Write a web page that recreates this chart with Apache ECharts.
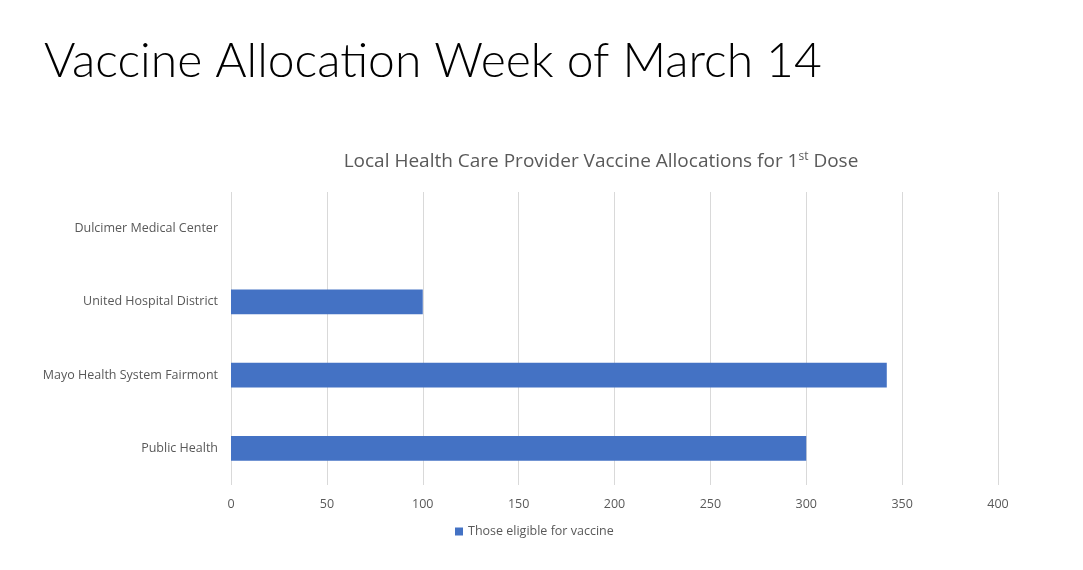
<!DOCTYPE html>
<html>
<head>
<meta charset="utf-8">
<script src="https://cdn.jsdelivr.net/npm/echarts@6/dist/echarts.min.js"></script>
<style>
html,body{margin:0;padding:0;background:#fff;}
#chart{width:1083px;height:570px;}
</style>
</head>
<body>
<div id="chart"></div>
<script>
// data
var categories = ['Public Health', 'Mayo Health System Fairmont', 'United Hospital District', 'Dulcimer Medical Center'];
var eligible = [300, 342, 100, 0];
var seriesName = 'Those eligible for vaccine';
var xTicks = [0, 400, 50]; // min, max, interval

var myChart = echarts.init(document.getElementById('chart'));
var option = {
    backgroundColor: '#fff',
    textStyle: { fontFamily: 'Open Sans, Noto Sans, sans-serif' },
    title: [
        {
            text: 'Vaccine Allocation Week of March 14',
            left: 39,
            top: 33,
            textStyle: {
                color: '#000',
                fontSize: 48,
                fontWeight: 300,
                fontFamily: 'Lato, Open Sans, sans-serif'
            }
        },
        {
            text: 'Local Health Care Provider Vaccine Allocations for 1{sup|st} Dose',
            left: 596,
            top: 146,
            textAlign: 'center',
            textStyle: {
                color: '#595959',
                fontSize: 19,
                fontWeight: 'normal',
                rich: {
                    sup: { fontSize: 12, color: '#595959', verticalAlign: 'top', padding: [0, 0, 10, 0] }
                }
            }
        }
    ],
    legend: {
        bottom: 27,
        left: 450,
        itemWidth: 8,
        itemHeight: 8,
        itemGap: 4,
        icon: 'rect',
        data: [seriesName],
        textStyle: { color: '#595959', fontSize: 12.5 }
    },
    grid: {
        left: 231,
        right: 85,
        top: 192,
        bottom: 85
    },
    xAxis: {
        type: 'value',
        min: xTicks[0],
        max: xTicks[1],
        interval: xTicks[2],
        axisLine: { show: false },
        axisTick: { show: false },
        axisLabel: { color: '#595959', fontSize: 12.5, margin: 13 },
        splitLine: { lineStyle: { color: '#d9d9d9', width: 1 } }
    },
    yAxis: {
        type: 'category',
        data: categories,
        axisLine: { show: false },
        axisTick: { show: false },
        axisLabel: { color: '#595959', fontSize: 12.5, margin: 13 }
    },
    series: [
        {
            name: seriesName,
            type: 'bar',
            data: eligible,
            barWidth: '34%',
            itemStyle: { color: '#4472c4' }
        }
    ]
};
myChart.setOption(option);
</script>
</body>
</html>
